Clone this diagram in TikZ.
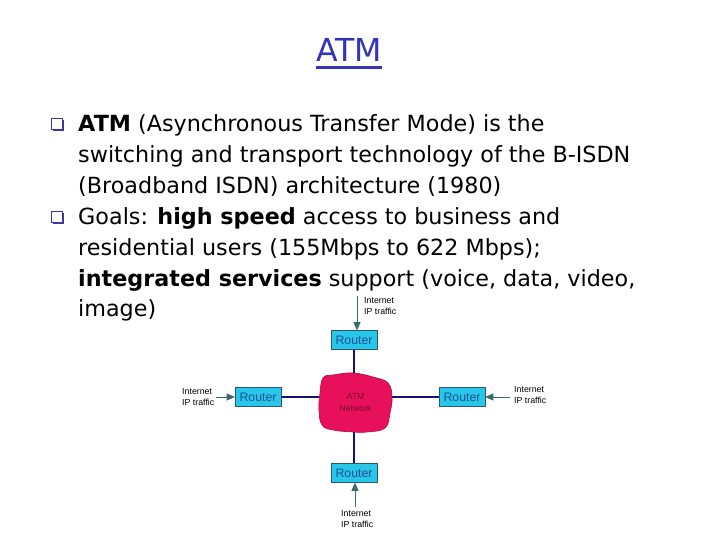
\documentclass[tikz,border=0pt]{standalone}
\usepackage{fontspec}
\setmainfont{DejaVu Sans}
\newfontfamily\diagfont{Liberation Sans}
\usetikzlibrary{arrows.meta,shadows}

\definecolor{titleblue}{RGB}{51,51,187}
\definecolor{boxblue}{RGB}{60,50,170}
\definecolor{routerfill}{RGB}{40,198,232}
\definecolor{routerline}{RGB}{40,90,110}
\definecolor{routertext}{RGB}{30,80,150}
\definecolor{cloudred}{RGB}{232,16,90}
\definecolor{cloudtext}{RGB}{125,10,45}
\definecolor{linknavy}{RGB}{20,20,110}
\definecolor{feedgray}{RGB}{60,105,105}

\tikzset{
  router/.style={draw=routerline, fill=routerfill, minimum width=39pt, minimum height=16pt,
    inner sep=0pt, text=routertext, font=\diagfont\fontsize{10.5}{12}\selectfont},
  link/.style={linknavy, line width=1.2pt},
  feed/.style={feedgray, line width=0.6pt, -{Triangle[width=6pt,length=7pt]}},
  lbl/.style={align=left, inner sep=0pt, font=\diagfont\fontsize{7.5}{9.5}\selectfont},
  bulletbox/.style={draw=boxblue, fill=white, line width=0.9pt, minimum size=9.5pt, inner sep=0pt,
    drop shadow={fill=boxblue, opacity=1, shadow xshift=1.2pt, shadow yshift=-1.2pt}},
  bodytext/.style={anchor=north west, align=left, inner sep=0pt, font=\fontsize{19}{26.4}\selectfont}
}

\begin{document}
\begin{tikzpicture}[x=0.03cm, y=-0.03cm]
        \useasboundingbox (0,0) rectangle (720,540);

        % Title
        \node[anchor=base, inner sep=0pt, text=titleblue, font=\fontsize{27}{30}\selectfont] (title) at (349,62) {ATM};
        \draw[titleblue, line width=2.4pt] ([yshift=-5pt]title.base west) -- ([yshift=-5pt]title.base east);

        % Bullets
        \node[bulletbox] (bul1) at (57,124) {};
        \node[bodytext] (item1) at (78,114) {\textbf{ATM} (Asynchronous Transfer Mode) is the\\
          switching and transport technology of the B-ISDN\\
          (Broadband ISDN) architecture (1980)};
        \node[bulletbox] (bul2) at (57,217) {};
        \node[bodytext] (item2) at (78,207) {Goals: \textbf{high speed} access to business and\\
          residential users (155Mbps to 622 Mbps);\\
          \textbf{integrated services} support (voice, data, video,\\
          image)};

        % ATM network cloud
        \filldraw[fill=cloudred, draw=cloudred!75!black, line width=0.5pt] plot[smooth cycle, tension=0.7] coordinates {
          (323,378) (333,375) (353,373) (373,377) (388,383) (392,397) (390,413)
          (385,428) (367,432) (353,432) (333,430) (322,425) (319,410) (320,393)};
        \node[minimum width=62pt, minimum height=50pt, inner sep=0pt, outer sep=0pt, align=center, text=cloudtext,
          font=\diagfont\fontsize{7.5}{9.5}\selectfont] (atm) at (355.5,402.5) {ATM\\Network};

        % Routers
        \node[router] (rtop) at (354,340) {Router};
        \node[router] (rleft) at (258,397) {Router};
        \node[router] (rright) at (462,397) {Router};
        \node[router] (rbot) at (354,473) {Router};

        % Links to the cloud
        \draw[link] (rtop.south) -- (rtop.south |- atm.north);
        \draw[link] (rleft.east) -- (atm.west |- rleft.east);
        \draw[link] (rright.west) -- (atm.east |- rright.west);
        \draw[link] (rbot.north) -- (rbot.north |- atm.south);

        % Internet IP traffic
        \coordinate (intop) at (357,296);
        \coordinate (inleft) at (216,397);
        \coordinate (inright) at (510,397);
        \coordinate (inbot) at (355,507);
        \draw[feed] (intop) -- (intop |- rtop.north);
        \draw[feed] (inleft) -- (rleft.west);
        \draw[feed] (inright) -- (rright.east);
        \draw[feed] (inbot) -- (inbot |- rbot.south);
        \node[lbl, anchor=north west] (ltop) at (364,297) {Internet\\IP traffic};
        \node[lbl, anchor=north west] (lleft) at (182,388) {Internet\\IP traffic};
        \node[lbl, anchor=north west] (lright) at (514,386) {Internet\\IP traffic};
        \node[lbl, anchor=north west] (lbot) at (341,510) {Internet\\IP traffic};
    \end{tikzpicture}
\end{document}
